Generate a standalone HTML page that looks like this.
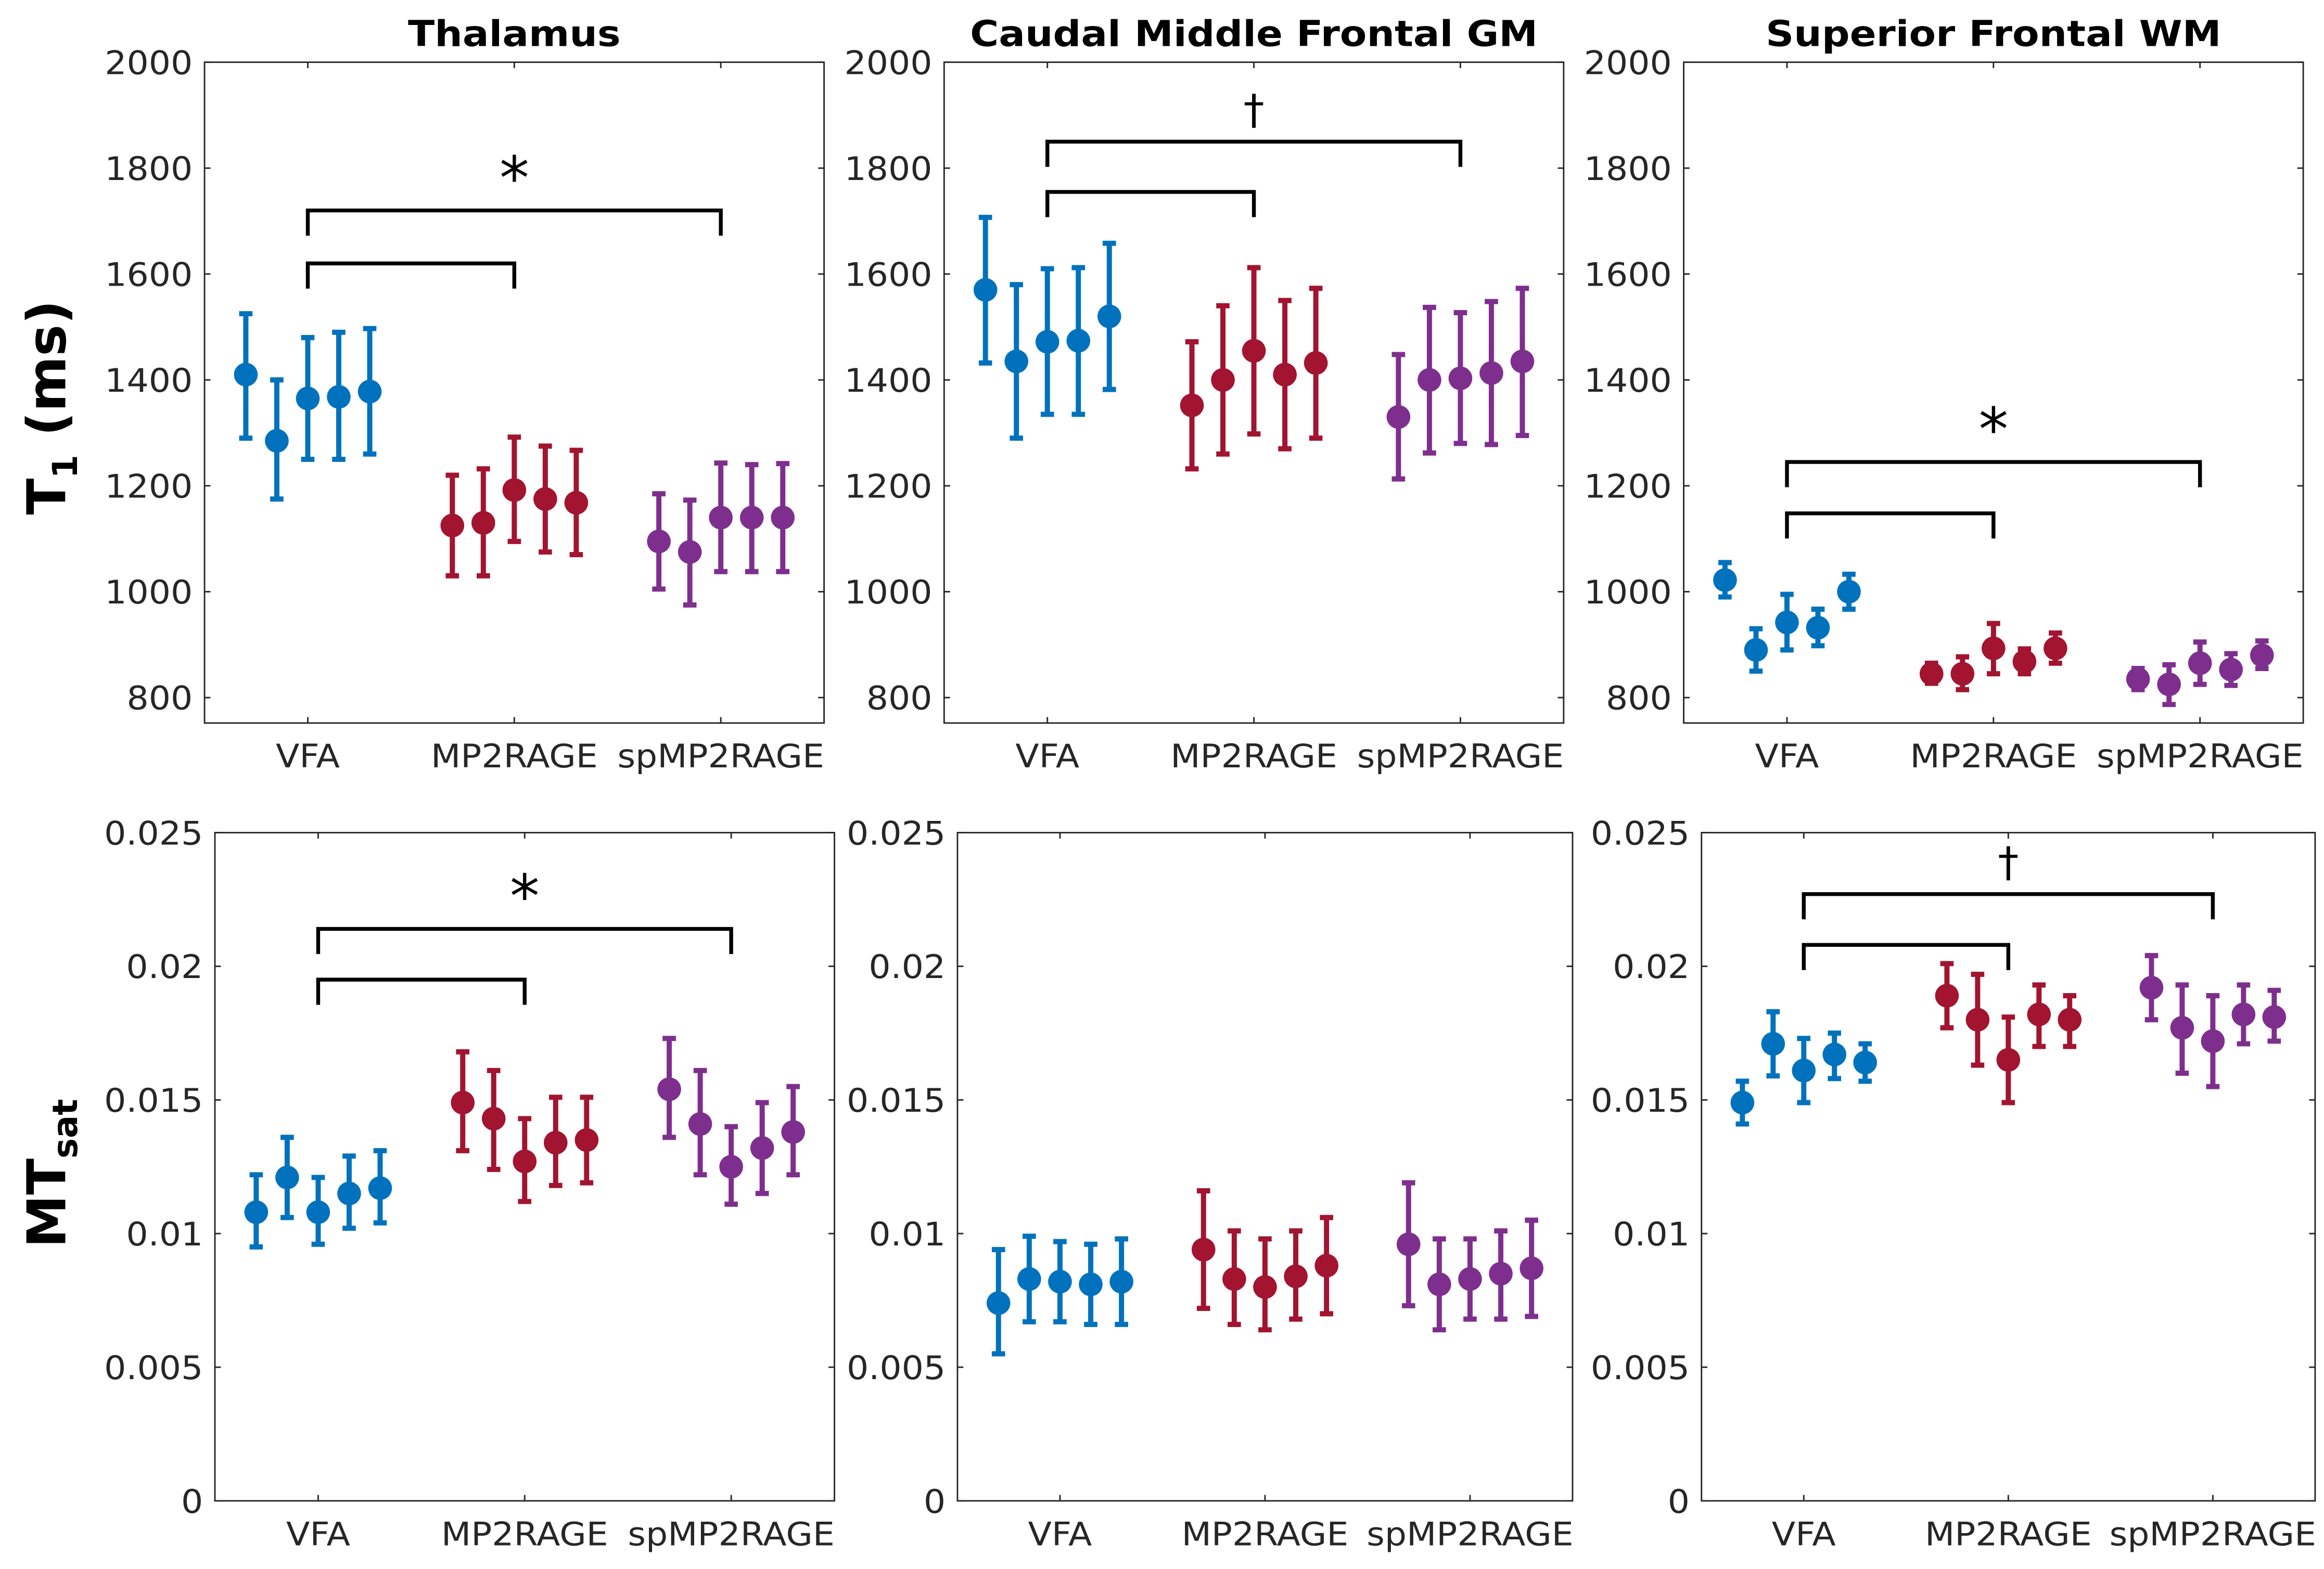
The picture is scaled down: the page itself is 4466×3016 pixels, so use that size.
<!DOCTYPE html>
<html><head><meta charset="utf-8">
<style>
html,body{margin:0;padding:0;background:#fff;}
svg{display:block;}
text{font-family:"DejaVu Sans","Liberation Sans",sans-serif;}
</style></head>
<body>
<svg id="fig" xmlns="http://www.w3.org/2000/svg" width="4466" height="3016" viewBox="0 0 1568 1059" preserveAspectRatio="none"></svg>
<script>
const categories = ["VFA","MP2RAGE","spMP2RAGE"];
const colors = ["#0072BD","#A2142F","#7E2F8E"];
const titles = ["Thalamus","Caudal Middle Frontal GM","Superior Frontal WM"];
const t1Ticks = [800,1000,1200,1400,1600,1800,2000];
const t1TickLabels = ["800","1000","1200","1400","1600","1800","2000"];
const mtTicks = [0,0.005,0.01,0.015,0.02,0.025];
const mtTickLabels = ["0","0.005","0.01","0.015","0.02","0.025"];

const t1Mean = [
 [[1410,1285,1365,1368,1378],[1125,1130,1192,1175,1168],[1095,1075,1140,1140,1140]],
 [[1570,1435,1472,1474,1520],[1352,1400,1455,1410,1432],[1330,1400,1403,1413,1435]],
 [[1022,890,942,932,1000],[845,845,893,868,893],[835,825,865,853,880]]
];
const t1Lo = [
 [[1290,1175,1250,1250,1260],[1030,1030,1095,1075,1070],[1005,975,1038,1038,1038]],
 [[1432,1290,1335,1335,1382],[1232,1260,1298,1270,1290],[1213,1262,1280,1278,1295]],
 [[990,850,890,898,967],[827,815,845,845,865],[815,787,825,823,855]]
];
const t1Hi = [
 [[1525,1400,1480,1490,1497],[1220,1232,1292,1275,1267],[1185,1173,1243,1240,1242]],
 [[1707,1580,1610,1612,1658],[1472,1540,1612,1550,1573],[1448,1537,1527,1548,1573]],
 [[1055,930,995,967,1033],[865,877,940,892,922],[855,862,905,883,907]]
];
const mtMean = [
 [[0.0108,0.0121,0.0108,0.0115,0.0117],[0.0149,0.0143,0.0127,0.0134,0.0135],[0.0154,0.0141,0.0125,0.0132,0.0138]],
 [[0.0074,0.0083,0.0082,0.0081,0.0082],[0.0094,0.0083,0.0080,0.0084,0.0088],[0.0096,0.0081,0.0083,0.0085,0.0087]],
 [[0.0149,0.0171,0.0161,0.0167,0.0164],[0.0189,0.0180,0.0165,0.0182,0.0180],[0.0192,0.0177,0.0172,0.0182,0.0181]]
];
const mtLo = [
 [[0.0095,0.0106,0.0096,0.0102,0.0104],[0.0131,0.0124,0.0112,0.0118,0.0119],[0.0136,0.0122,0.0111,0.0115,0.0122]],
 [[0.0055,0.0067,0.0067,0.0066,0.0066],[0.0072,0.0066,0.0064,0.0068,0.0070],[0.0073,0.0064,0.0068,0.0068,0.0069]],
 [[0.0141,0.0159,0.0149,0.0158,0.0157],[0.0177,0.0163,0.0149,0.0170,0.0170],[0.0180,0.0160,0.0155,0.0171,0.0172]]
];
const mtHi = [
 [[0.0122,0.0136,0.0121,0.0129,0.0131],[0.0168,0.0161,0.0143,0.0151,0.0151],[0.0173,0.0161,0.0140,0.0149,0.0155]],
 [[0.0094,0.0099,0.0097,0.0096,0.0098],[0.0116,0.0101,0.0098,0.0101,0.0106],[0.0119,0.0098,0.0098,0.0101,0.0105]],
 [[0.0157,0.0183,0.0173,0.0175,0.0171],[0.0201,0.0197,0.0181,0.0193,0.0189],[0.0204,0.0193,0.0189,0.0193,0.0191]]
];
const offsets = [-0.3,-0.15,0,0.15,0.3];
const t1Brackets = [[1620,1720,"*"],[1755,1850,"†"],[1148,1245,"*"]];
const mtBrackets = [[0.0195,0.0214,"*"],null,[0.0208,0.0227,"†"]];

const NS="http://www.w3.org/2000/svg";
const svg=document.getElementById('fig');
function mk(tag,attrs,parent){const e=document.createElementNS(NS,tag);for(const k in attrs)e.setAttribute(k,attrs[k]);(parent||svg).appendChild(e);return e;}
function wideText(x,y,anchor,size,sx,parent,extra){
  const a={x:0,y:0,transform:`translate(${x},${y}) scale(${sx},1)`,'text-anchor':anchor,'font-size':size,fill:'#262626'};
  for(const k in (extra||{}))a[k]=extra[k];
  return mk('text',a,parent);
}

const topBoxes=[[138,556],[637,1055],[1136,1554]];
const botBoxes=[[145,563],[646,1061],[1148,1562]];

function drawPanel(p,row){
  const box=row===0?topBoxes[p]:botBoxes[p];
  const y0=row===0?42:562, y1=row===0?488:1013;
  const vmin=row===0?752:0, vmax=row===0?2000:0.025;
  const ticks=row===0?t1Ticks:mtTicks, labels=row===0?t1TickLabels:mtTickLabels;
  const mean=row===0?t1Mean:mtMean, lo=row===0?t1Lo:mtLo, hi=row===0?t1Hi:mtHi;
  const X=v=>box[0]+(v-0.5)/3*(box[1]-box[0]);
  const Y=v=>y1-(v-vmin)/(vmax-vmin)*(y1-y0);
  const g=mk('g',{});
  
  
  const frame=mk('rect',{x:box[0],y:y0,width:box[1]-box[0],height:y1-y0,fill:'none',stroke:'#262626','stroke-width':1},g);
  
  
  ticks.forEach((t,i)=>{
    const y=Y(t);
    mk('line',{x1:box[0],x2:box[0]+4,y1:y,y2:y,stroke:'#262626','stroke-width':1},g);
    mk('line',{x1:box[1],x2:box[1]-4,y1:y,y2:y,stroke:'#262626','stroke-width':1},g);
    const tl=wideText(box[0]-8,y+8,'end',22,1.06,g);
    tl.textContent=labels[i];
    
    
  });
  categories.forEach((c,i)=>{
    const x=X(i+1);
    mk('line',{x1:x,x2:x,y1:y1,y2:y1-4,stroke:'#262626','stroke-width':1},g);
    mk('line',{x1:x,x2:x,y1:y0,y2:y0+4,stroke:'#262626','stroke-width':1},g);
    const tl=wideText(x,y1+30,'middle',22,1.06,g);
    tl.textContent=c;
    
    
  });
  for(let gi=0;gi<3;gi++){
    for(let k=0;k<5;k++){
      const x=X(gi+1+offsets[k]);
      const col=colors[gi];
      const eb=mk('g',{},g);
      
      
      const yl=Y(lo[p][gi][k]), yh=Y(hi[p][gi][k]);
      mk('line',{x1:x,x2:x,y1:yl,y2:yh,stroke:col,'stroke-width':3.5},eb);
      mk('line',{x1:x-4.5,x2:x+4.5,y1:yl,y2:yl,stroke:col,'stroke-width':3.5},eb);
      mk('line',{x1:x-4.5,x2:x+4.5,y1:yh,y2:yh,stroke:col,'stroke-width':3.5},eb);
      const pt=mk('circle',{cx:x,cy:Y(mean[p][gi][k]),r:8,fill:col},eb);
      
      
    }
  }
  const br=row===0?t1Brackets[p]:mtBrackets[p];
  if(br){
    const xa=X(1),xb=X(2),xc=X(3);
    const yi=Y(br[0]),yo=Y(br[1]);
    const b1=mk('path',{d:`M${xa},${yi+17}V${yi}H${xb}V${yi+17}`,fill:'none',stroke:'#000','stroke-width':2.6},g);
    
    
    const b2=mk('path',{d:`M${xa},${yo+17}V${yo}H${xc}V${yo+17}`,fill:'none',stroke:'#000','stroke-width':2.6},g);
    
    
    const s=mk('text',{x:xb,y:br[2]==="*"?yo-8:yo-12,'text-anchor':'middle','font-size':br[2]==="*"?40:28,fill:'#000'},g);
    s.textContent=br[2];
    
    
  }
  if(row===0){
    const t=wideText((box[0]+box[1])/2,31,'middle',24,1.1,g,{'font-weight':'bold',fill:'#000'});
    t.textContent=titles[p];
    
    
  }
}
for(let p=0;p<3;p++){drawPanel(p,0);drawPanel(p,1);}

const yl1=mk('text',{transform:'translate(44,275) rotate(-90)','text-anchor':'middle','font-size':36,'font-weight':'bold',fill:'#000'});
yl1.innerHTML='T<tspan font-size="23" dy="8">1</tspan><tspan dy="-8"> (ms)</tspan>';


const yl2=mk('text',{transform:'translate(44,792) rotate(-90)','text-anchor':'middle','font-size':36,'font-weight':'bold',fill:'#000'});
yl2.innerHTML='MT<tspan font-size="23" dy="8">sat</tspan>';


</script>
</body></html>
